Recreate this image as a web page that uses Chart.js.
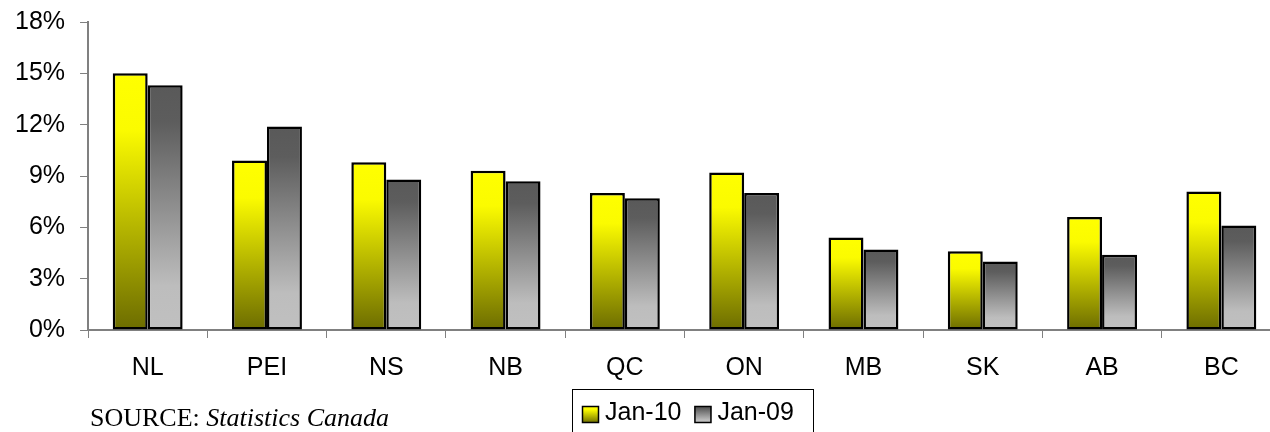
<!DOCTYPE html>
<html>
<head>
<meta charset="utf-8">
<script src="https://cdn.jsdelivr.net/npm/chart.js@4/dist/chart.umd.min.js"></script>
<style>
  html, body { margin: 0; padding: 0; background: #fff; overflow: hidden; }
  #wrap { width: 1290px; height: 440px; margin-top: -8px; }
</style>
</head>
<body>
<div id="wrap"><canvas id="myChart" width="1290" height="440"></canvas></div>
<script>
const provinces = ['NL', 'PEI', 'NS', 'NB', 'QC', 'ON', 'MB', 'SK', 'AB', 'BC']
const jan10 = [15.0, 9.9, 9.8, 9.3, 8.0, 9.2, 5.4, 4.6, 6.6, 8.1]
const jan09 = [14.3, 11.9, 8.8, 8.7, 7.7, 8.0, 4.7, 4.0, 4.4, 6.1]
const yTicks = [0, 3, 6, 9, 12, 15, 18]
const seriesLabels = ['Jan-10', 'Jan-09']

const yellowStops = [[0, '#ffff00'], [0.22, '#fbfb00'], [1, '#6c6c00']]
const greyStops = [[0, '#595959'], [0.15, '#5d5d5d'], [0.82, '#bdbdbd'], [1, '#c0c0c0']]

const sansFont = 'Arial, "Liberation Sans", sans-serif'

function makeGradient (ctx, top, bottom, stops) {
  const g = ctx.createLinearGradient(0, top, 0, bottom)
  stops.forEach(function (s) { g.addColorStop(s[0], s[1]) })
  return g
}

function barFill (stops) {
  return function (context) {
    const chart = context.chart
    if (!chart.chartArea) return stops[0][1]
    const y = chart.scales.y
    return makeGradient(chart.ctx, y.getPixelForValue(context.raw), y.getPixelForValue(0), stops)
  }
}

// legend in a framed box plus the source note, drawn below the axis
// (canvas sits 8px above the page top, hence the +8 offsets)
const boxLegend = {
  id: 'boxLegend',
  afterDraw (chart) {
    const ctx = chart.ctx
    const dy = 8
    ctx.save()

    ctx.strokeStyle = '#000'
    ctx.lineWidth = 1
    ctx.strokeRect(572.5, 389.5 + dy, 241, 60)

    ctx.font = '25px ' + sansFont
    ctx.textBaseline = 'alphabetic'
    ctx.fillStyle = '#000'
    let x = 582
    const stopsList = [yellowStops, greyStops]
    chart.data.datasets.forEach(function (ds, i) {
      ctx.fillStyle = makeGradient(ctx, 406 + dy, 423 + dy, stopsList[i])
      ctx.fillRect(x, 406 + dy, 17, 17)
      ctx.strokeStyle = '#000'
      ctx.lineWidth = 1.5
      ctx.strokeRect(x + 0.5, 406.5 + dy, 16, 16)
      ctx.fillStyle = '#000'
      ctx.fillText(ds.label, x + 23, 420 + dy)
      x += 23 + ctx.measureText(ds.label).width + 13
    })

    ctx.font = '26px "Liberation Serif", "Times New Roman", serif'
    const lead = 'SOURCE: '
    ctx.fillText(lead, 90, 426 + dy)
    const w = ctx.measureText(lead).width
    ctx.font = 'italic 26px "Liberation Serif", "Times New Roman", serif'
    ctx.fillText('Statistics Canada', 90 + w, 426 + dy)
    ctx.restore()
  }
}

Chart.defaults.color = '#000'
Chart.defaults.font.family = sansFont
Chart.defaults.font.size = 25

const ctx = document.getElementById('myChart').getContext('2d')
// eslint-disable-next-line no-unused-vars
const myChart = new Chart(ctx, {
  type: 'bar',
  data: {
    labels: provinces,
    datasets: [{
      label: seriesLabels[0],
      data: jan10,
      backgroundColor: barFill(yellowStops),
      borderColor: '#000',
      borderWidth: 2.5,
      borderSkipped: false
    }, {
      label: seriesLabels[1],
      data: jan09,
      backgroundColor: barFill(greyStops),
      borderColor: '#000',
      borderWidth: 2.5,
      borderSkipped: false
    }]
  },
  options: {
    responsive: false,
    animation: false,
    layout: {
      padding: { left: 0, right: 9, top: 14, bottom: 34 }
    },
    datasets: {
      bar: {
        barPercentage: 1,
        categoryPercentage: 0.586
      }
    },
    scales: {
      x: {
        grid: {
          offset: true,
          drawOnChartArea: false,
          tickLength: 8,
          color: '#808080'
        },
        border: { color: '#808080', width: 2 },
        ticks: { padding: 15, maxRotation: 0 }
      },
      y: {
        min: 0,
        max: 18,
        afterBuildTicks: function (axis) {
          axis.ticks = yTicks.map(function (v) { return { value: v } })
        },
        grid: {
          drawOnChartArea: false,
          tickLength: 8,
          color: '#808080'
        },
        border: { color: '#808080', width: 2 },
        ticks: {
          padding: 15,
          callback: function (value) { return value + '%' }
        }
      }
    },
    plugins: {
      legend: { display: false },
      tooltip: { enabled: false }
    }
  },
  plugins: [boxLegend]
})
</script>
</body>
</html>
